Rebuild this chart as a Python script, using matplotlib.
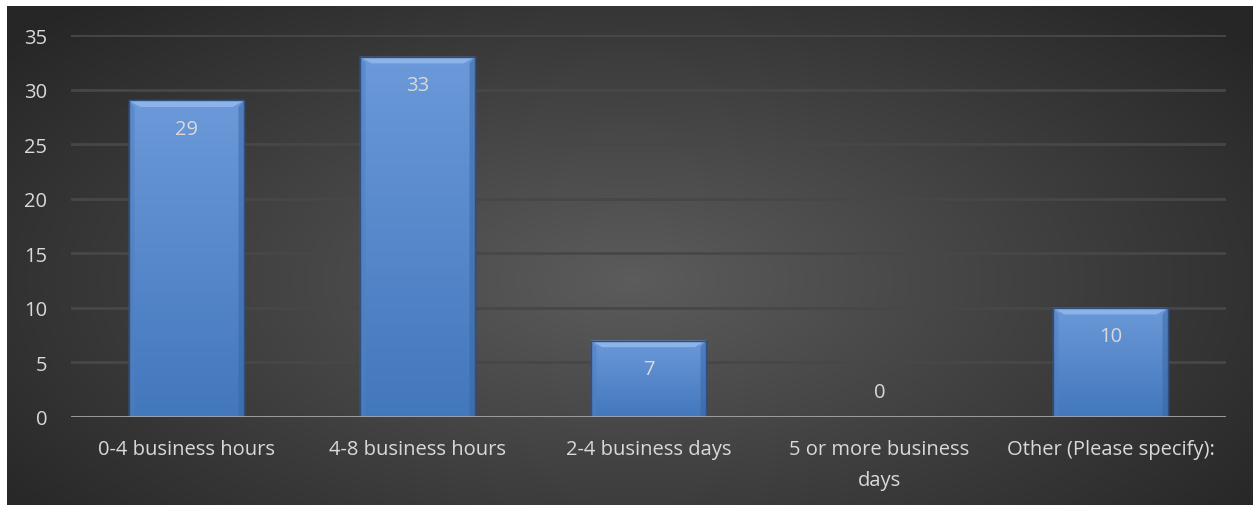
import matplotlib.pyplot as plt
import matplotlib.patches as patches
import numpy as np

categories = ["0-4 business hours", "4-8 business hours", "2-4 business days",
              "5 or more business\ndays", "Other (Please specify):"]
counts = [29, 33, 7, 0, 10]
yticks = [0, 5, 10, 15, 20, 25, 30, 35]

W, H = 1253, 506
fig = plt.figure(figsize=(W / 100, H / 100), dpi=100)
fig.patch.set_facecolor("white")

# plain dark backing so no white shows at the edges
fig.add_artist(patches.Rectangle((7 / W, 0), 1, 1 - 7 / H, transform=fig.transFigure,
                                 facecolor="#262626", edgecolor="none", zorder=-10))

# dark radial background (starts a few px in from top/left)
bg = fig.add_axes([7 / W, 0, 1 - 7 / W, 1 - 7 / H])
yy, xx = np.mgrid[0:1:200j, 0:1:400j]
r = np.sqrt(((xx - 0.5) * 1.1) ** 2 + ((yy - 0.55) * 0.9) ** 2)
shade = np.clip(0.36 - 0.30 * r, 0.15, 0.36)
bg.imshow(np.dstack([shade, shade, shade]), aspect="auto", extent=[0, 1, 0, 1],
          interpolation="bilinear")
bg.set_xlim(0, 1)
bg.set_ylim(0, 1)
bg.set_axis_off()

ax = fig.add_axes([71 / W, (H - 418) / H, (1226 - 71) / W, (418 - 36) / H])
ax.patch.set_alpha(0)
ax.set_xlim(-0.5, len(categories) - 0.5)
ax.set_ylim(0, 35)

for t in yticks[1:]:
    ax.axhline(t, color="#474747", lw=2, zorder=1)

font = "Open Sans"
txt_col = "#d9d9d9"
fs = 14.5

x = np.arange(len(categories))
bars = ax.bar(x, counts, width=0.5, color="#5a8ad0", edgecolor="#2f4f80",
              linewidth=1, zorder=2)

grad = np.linspace(0, 1, 100)[:, None]
top_c = np.array([0.42, 0.60, 0.85])
bot_c = np.array([0.26, 0.47, 0.74])
for b in bars:
    h = b.get_height()
    if h <= 0:
        continue
    x0, w = b.get_x(), b.get_width()
    img = top_c * (1 - grad[..., None]) + bot_c * grad[..., None]
    im = ax.imshow(img, extent=[x0, x0 + w, 0, h], aspect="auto", zorder=3)
    im.set_clip_path(b)
    # bevel on top edge
    bev = 0.6
    dx = 0.05
    ax.add_patch(patches.Polygon([[x0, h], [x0 + w, h], [x0 + w - dx, h - bev],
                                  [x0 + dx, h - bev]], closed=True,
                                 facecolor="#8db4e8", edgecolor="none", zorder=4))
    ax.add_patch(patches.Polygon([[x0, h], [x0 + dx * 0.5, h - bev], [x0 + dx * 0.5, 0], [x0, 0]],
                                 closed=True, facecolor="#4f7fc0", edgecolor="none",
                                 alpha=0.5, zorder=4))
    ax.add_patch(patches.Polygon([[x0 + w, h], [x0 + w - dx * 0.5, h - bev],
                                  [x0 + w - dx * 0.5, 0], [x0 + w, 0]], closed=True,
                                 facecolor="#3a64a0", edgecolor="none", alpha=0.5, zorder=4))
    ax.add_patch(patches.Rectangle((x0, 0), w, h, facecolor="none",
                                   edgecolor="#2f4f80", lw=1, zorder=5))

for xi, v in zip(x, counts):
    ypos = v - 2.6 if v > 0 else 2.3
    ax.text(xi, ypos, str(v), ha="center", va="center", fontsize=fs,
            family=font, color=txt_col, zorder=6)

ax.axhline(0, color="#a6a6a6", lw=2, zorder=6)

for s in ax.spines.values():
    s.set_visible(False)
ax.set_yticks(yticks)
ax.set_yticklabels([str(t) for t in yticks], family=font, fontsize=fs, color=txt_col)
ax.set_xticks(x)
ax.set_xticklabels(categories, family=font, fontsize=fs, color=txt_col,
                   linespacing=1.75)
ax.tick_params(axis="both", length=0)
ax.tick_params(axis="y", pad=17)
ax.tick_params(axis="x", pad=16)

fig.savefig("out.png", dpi=100, facecolor=fig.get_facecolor())
